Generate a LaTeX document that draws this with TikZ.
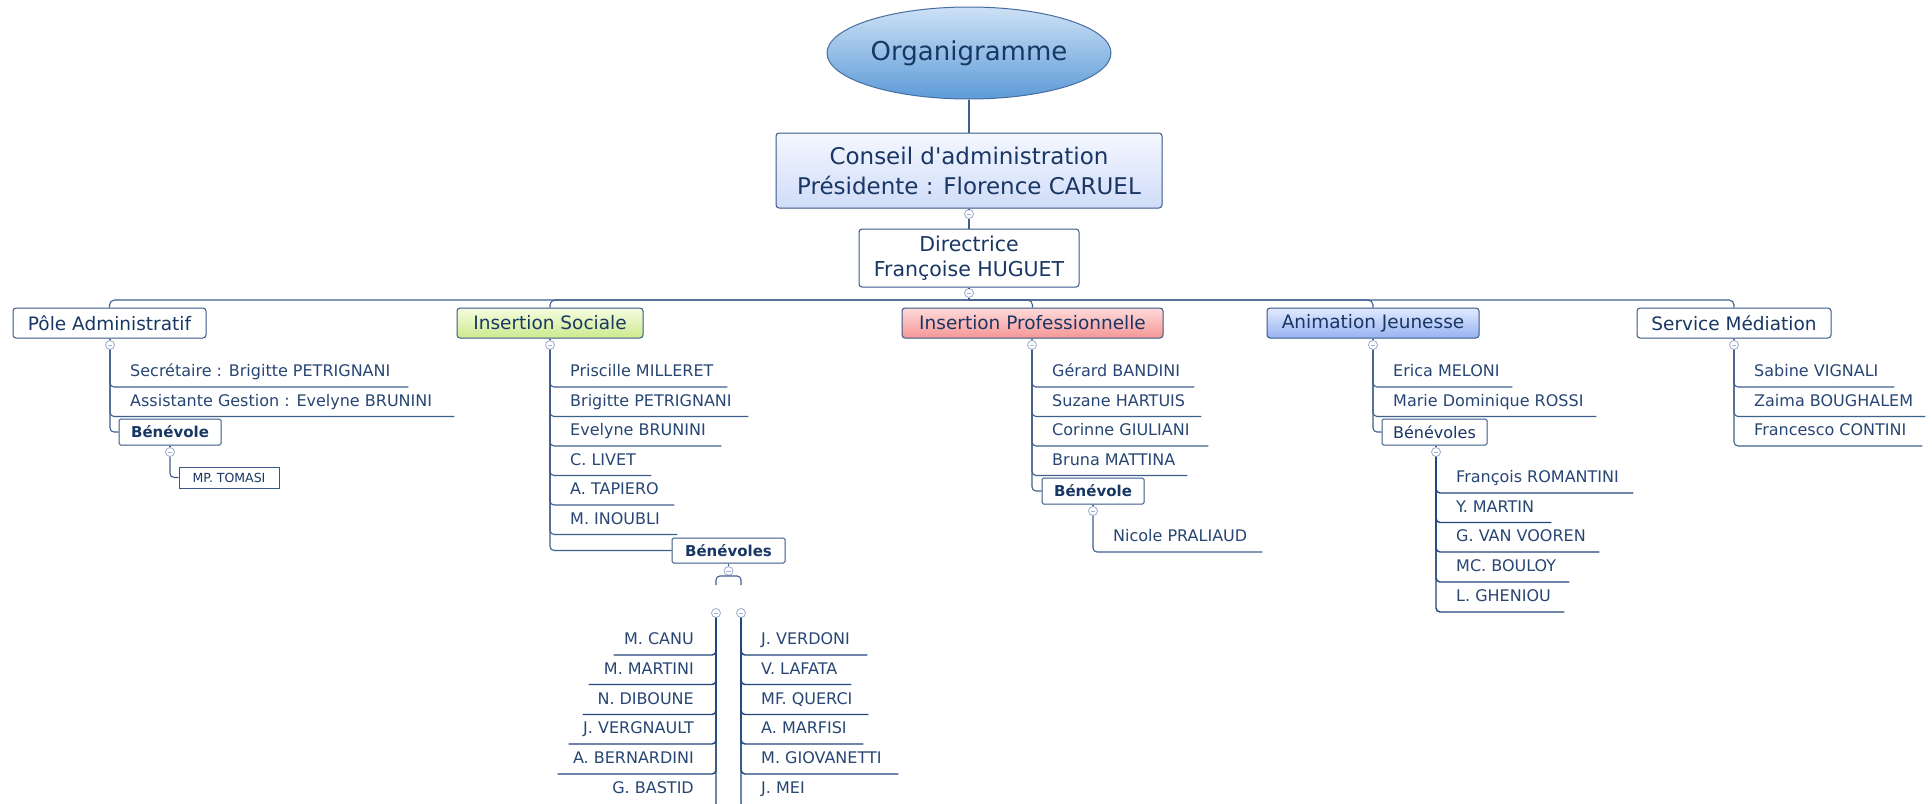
\documentclass[tikz,border=0pt]{standalone}
\usepackage{fontspec}
\newfontfamily\dvs{DejaVu Sans}
\usetikzlibrary{shapes.geometric}

\definecolor{tc}{RGB}{25,55,100}
\definecolor{ic}{RGB}{40,70,115}
\definecolor{lc}{RGB}{62,96,140}
\definecolor{dc}{RGB}{35,70,125}
\definecolor{bc}{RGB}{55,88,135}
\definecolor{cc}{RGB}{160,178,208}

\newcommand\lbl[2]{\makebox[#1pt][l]{\hspace*{20pt}#2}}
\newcommand\rlbl[2]{\makebox[#1pt][r]{#2\hspace*{22pt}}}

\tikzset{
  item/.style={inner sep=0pt, text height=13pt, text depth=10pt, text=ic, font=\dvs\fontsize{16}{19}\selectfont},
  iteml/.style={item, anchor=south west},
  itemr/.style={item, anchor=south east},
  hbox/.style={draw=bc, line width=1pt, rounded corners=3pt, text=tc, font=\dvs\fontsize{18.5}{22}\selectfont, minimum height=30pt, inner sep=0pt, fill=white},
  fillgreen/.style={top color={rgb,255:red,246;green,252;blue,224}, bottom color={rgb,255:red,204;green,234;blue,142}},
  fillred/.style={top color={rgb,255:red,255;green,218;blue,218}, bottom color={rgb,255:red,245;green,150;blue,150}},
  fillblue/.style={top color={rgb,255:red,226;green,234;blue,255}, bottom color={rgb,255:red,150;green,178;blue,240}},
  bbox/.style={draw=bc, line width=1pt, rounded corners=1.5pt, text=tc, inner sep=0pt, fill=white, minimum height=26pt},
  col/.style={circle, draw=cc, fill=white, line width=0.9pt, minimum size=9pt, inner sep=0pt,
    path picture={\draw[cc, line width=0.9pt] ([xshift=-2.3pt]path picture bounding box.center) -- ([xshift=2.3pt]path picture bounding box.center);}},
  ln/.style={draw=lc, line width=1.1pt, rounded corners=4pt},
  lnb/.style={ln, draw=dc, line width=1.45pt},
}

\begin{document}
\begin{tikzpicture}[x=1pt,y=-1pt]
\fill[white] (0,0) rectangle (1932,803);
\useasboundingbox (0,0) rectangle (1932,803);
\coordinate (bus) at (0,300);

% top
\node[ellipse, draw={rgb,255:red,70;green,110;blue,160}, line width=1pt,
  top color={rgb,255:red,205;green,225;blue,245}, bottom color={rgb,255:red,92;green,155;blue,216},
  minimum width=284pt, minimum height=92pt, inner sep=0pt, text=tc,
  font=\dvs\fontsize{26}{30}\selectfont] (org) at (969,53) {\raisebox{-2pt}{Organigramme}};
\node[draw=bc, line width=1pt, rounded corners=3pt,
  top color={rgb,255:red,244;green,247;blue,255}, bottom color={rgb,255:red,208;green,220;blue,248},
  minimum width=386pt, minimum height=75pt, inner sep=0pt, align=center, text=tc,
  font=\dvs\fontsize{23}{30}\selectfont] (ca) at (969,170.5) {Conseil d'administration\\Présidente : Florence CARUEL};
\node[col] (cca) at (969,214) {};
\node[draw=bc, line width=1pt, rounded corners=3pt, fill=white,
  minimum width=220pt, minimum height=58pt, inner sep=0pt, align=center, text=tc,
  font=\dvs\fontsize{20.5}{25}\selectfont] (dir) at (969,258) {Directrice\\Françoise HUGUET};
\node[col] (cdir) at (969,293) {};
\draw[ln] (org.south) -- (ca.north);
\draw[ln] (ca.south) -- (cca.north);
\draw[ln] (cca.south) -- (dir.north);
\draw[ln] (dir.south) -- (cdir.north);

% level 1
\node[hbox, minimum width=193pt] (pa) at (109.5,323) {Pôle Administratif};
\node[hbox, fillgreen, minimum width=186pt] (is) at (550,323) {Insertion Sociale};
\node[hbox, fillred, minimum width=261pt] (ip) at (1032.5,323) {Insertion Professionnelle};
\node[hbox, fillblue, minimum width=212pt] (aj) at (1373,323) {Animation Jeunesse};
\node[hbox, minimum width=194pt] (sm) at (1734,323) {Service Médiation};
\draw[ln] (cdir.south) -- (cdir.south |- bus);
\foreach \b in {pa,is,ip,aj,sm}{
  \draw[ln, rounded corners=5pt] (cdir.south |- bus) -| (\b.north);
}
\node[col] (cpa) at (110,345) {};
\node[col] (cis) at (550,345) {};
\node[col] (cip) at (1032,345) {};
\node[col] (caj) at (1373,345) {};
\node[col] (csm) at (1734,345) {};
\draw[ln] (pa.south -| cpa) -- (cpa.north);
\draw[ln] (is.south -| cis) -- (cis.north);
\draw[ln] (ip.south -| cip) -- (cip.north);
\draw[ln] (aj.south -| caj) -- (caj.north);
\draw[ln] (sm.south -| csm) -- (csm.north);

% Pole administratif
\node[iteml] (pa1) at (110,387) {\lbl{298}{Secrétaire : Brigitte PETRIGNANI}};
\node[iteml] (pa2) at (110,416.5) {\lbl{344}{Assistante Gestion : Evelyne BRUNINI}};
\node[bbox, minimum width=102pt, font=\dvs\bfseries\fontsize{15}{18}\selectfont] (pab) at (170,432) {Bénévole};
\node[col] (cpab) at (170,452) {};
\node[draw=bc, line width=1pt, fill=white, minimum width=100pt, minimum height=21pt, inner sep=0pt,
  text=tc, font=\dvs\fontsize{12.5}{15}\selectfont] (pat) at (229,477.5) {MP. TOMASI};
\foreach \n in {pa1,pa2}{\draw[ln] (cpa.south) |- (\n.south east);}
\draw[ln] (cpa.south) |- (pab.west);
\draw[ln] (pab.south) -- (cpab.north);
\draw[ln] (cpab.south) |- (pat.west);

% Insertion sociale
\node[iteml] (is1) at (550,387) {\lbl{177}{Priscille MILLERET}};
\node[iteml] (is2) at (550,416.5) {\lbl{198}{Brigitte PETRIGNANI}};
\node[iteml] (is3) at (550,446) {\lbl{171}{Evelyne BRUNINI}};
\node[iteml] (is4) at (550,475.5) {\lbl{101}{C. LIVET}};
\node[iteml] (is5) at (550,505) {\lbl{124}{A. TAPIERO}};
\node[iteml] (is6) at (550,534.5) {\lbl{127}{M. INOUBLI}};
\node[bbox, minimum width=113pt, minimum height=25pt, font=\dvs\bfseries\fontsize{15}{18}\selectfont] (isb) at (728.5,550.5) {Bénévoles};
\foreach \n in {is1,is2,is3,is4,is5,is6}{\draw[ln] (cis.south) |- (\n.south east);}
\draw[ln] (cis.south) |- (isb.west);
\node[col] (cisb) at (728.5,571) {};
\draw[ln] (isb.south -| cisb) -- (cisb.north);
\coordinate (bl) at (716,585);
\coordinate (br) at (741,585);
\draw[ln] (bl) |- (cisb.south) -| (br);
\node[col] (cisl) at (716,613) {};
\node[col] (cisr) at (741,613) {};
\node[itemr] (l1) at (716,655) {\rlbl{102}{M. CANU}};
\node[itemr] (l2) at (716,684.5) {\rlbl{127}{M. MARTINI}};
\node[itemr] (l3) at (716,714.5) {\rlbl{133}{N. DIBOUNE}};
\node[itemr] (l4) at (716,744) {\rlbl{147}{J. VERGNAULT}};
\node[itemr] (l5) at (716,774) {\rlbl{158}{A. BERNARDINI}};
\node[itemr, text depth=14pt] (l6) at (716,808) {\rlbl{120}{G. BASTID}};
\node[iteml] (r1) at (741,655) {\lbl{126}{J. VERDONI}};
\node[iteml] (r2) at (741,684.5) {\lbl{110}{V. LAFATA}};
\node[iteml] (r3) at (741,714.5) {\lbl{127}{MF. QUERCI}};
\node[iteml] (r4) at (741,744) {\lbl{122}{A. MARFISI}};
\node[iteml] (r5) at (741,774) {\lbl{157}{M. GIOVANETTI}};
\node[iteml, text depth=14pt] (r6) at (741,808) {\lbl{95}{J. MEI}};
\foreach \n in {l1,l2,l3,l4,l5,l6}{\draw[lnb] (cisl.south) |- (\n.south west);}
\foreach \n in {r1,r2,r3,r4,r5,r6}{\draw[lnb] (cisr.south) |- (\n.south east);}

% Insertion professionnelle
\node[iteml] (ip1) at (1032,387) {\lbl{162}{Gérard BANDINI}};
\node[iteml] (ip2) at (1032,416.5) {\lbl{169}{Suzane HARTUIS}};
\node[iteml] (ip3) at (1032,446) {\lbl{176}{Corinne GIULIANI}};
\node[iteml] (ip4) at (1032,475.5) {\lbl{155}{Bruna MATTINA}};
\node[bbox, minimum width=102pt, font=\dvs\bfseries\fontsize{15}{18}\selectfont] (ipb) at (1093,491) {Bénévole};
\foreach \n in {ip1,ip2,ip3,ip4}{\draw[ln] (cip.south) |- (\n.south east);}
\draw[ln] (cip.south) |- (ipb.west);
\node[col] (cipb) at (1093,511) {};
\draw[ln] (ipb.south) -- (cipb.north);
\node[iteml] (ip5) at (1093,552) {\lbl{169}{Nicole PRALIAUD}};
\draw[ln] (cipb.south) |- (ip5.south east);

% Animation jeunesse
\node[iteml] (aj1) at (1373,387) {\lbl{139}{Erica MELONI}};
\node[iteml] (aj2) at (1373,416.5) {\lbl{223}{Marie Dominique ROSSI}};
\node[bbox, minimum width=105pt, font=\dvs\fontsize{16}{19}\selectfont] (ajb) at (1434.5,432) {Bénévoles};
\foreach \n in {aj1,aj2}{\draw[ln] (caj.south) |- (\n.south east);}
\draw[ln] (caj.south) |- (ajb.west);
\node[col] (cajb) at (1436,452) {};
\draw[ln] (ajb.south -| cajb) -- (cajb.north);
\node[iteml] (aj3) at (1436,493) {\lbl{197}{François ROMANTINI}};
\node[iteml] (aj4) at (1436,522.5) {\lbl{115}{Y. MARTIN}};
\node[iteml] (aj5) at (1436,552) {\lbl{163}{G. VAN VOOREN}};
\node[iteml] (aj6) at (1436,582) {\lbl{133}{MC. BOULOY}};
\node[iteml] (aj7) at (1436,612) {\lbl{128}{L. GHENIOU}};
\foreach \n in {aj3,aj4,aj5,aj6,aj7}{\draw[lnb] (cajb.south) |- (\n.south east);}

% Service mediation
\node[iteml] (sm1) at (1734,387) {\lbl{160}{Sabine VIGNALI}};
\node[iteml] (sm2) at (1734,416.5) {\lbl{191}{Zaima BOUGHALEM}};
\node[iteml] (sm3) at (1734,446) {\lbl{188}{Francesco CONTINI}};
\foreach \n in {sm1,sm2,sm3}{\draw[ln] (csm.south) |- (\n.south east);}
\end{tikzpicture}
\end{document}
